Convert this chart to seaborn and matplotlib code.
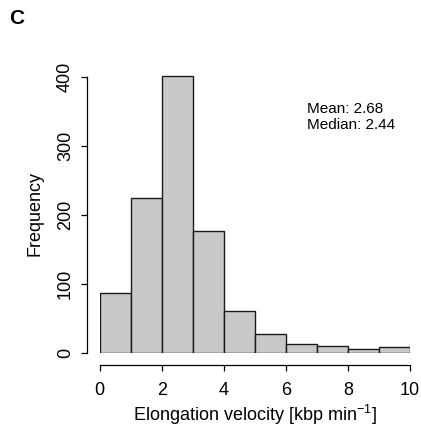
import numpy as np
import pandas as pd
import seaborn as sns
import matplotlib.pyplot as plt

# Гистограмма скорости элонгации
bin_edges = [0, 1, 2, 3, 4, 5, 6, 7, 8, 9, 10]
bin_counts = [88, 225, 402, 177, 62, 28, 13, 11, 6, 9]
x_ticks = [0, 2, 4, 6, 8, 10]
y_ticks = [0, 100, 200, 300, 400]
mean_val = 2.68
median_val = 2.44

centers = [(a + b) / 2 for a, b in zip(bin_edges[:-1], bin_edges[1:])]
df = pd.DataFrame({'velocity': centers, 'count': bin_counts})

sns.set_style('white')
plt.rcParams['font.family'] = ['Liberation Sans', 'DejaVu Sans']
plt.rcParams['text.color'] = 'black'
plt.rcParams['axes.labelcolor'] = 'black'
plt.rcParams['xtick.color'] = 'black'
plt.rcParams['ytick.color'] = 'black'

W, H = 421, 426
fig = plt.figure(figsize=(W / 100, H / 100), dpi=100)
ymax = 420
ax_h = ymax * 0.69
ax = fig.add_axes([99.7 / W, (H - 353.3) / H, 310.3 / W, ax_h / H])

sns.histplot(data=df, x='velocity', weights='count', bins=bin_edges,
             color='#c8cac9', edgecolor='#1a1a1a', linewidth=1.0, alpha=1,
             ax=ax)

ax.set_xlim(0, 10)
ax.set_ylim(0, ymax)
ax.set_xticks(x_ticks)
ax.set_yticks(y_ticks)

for s in ['top', 'right']:
    ax.spines[s].set_visible(False)
ax.spines['left'].set_position(('outward', 9))
ax.spines['bottom'].set_position(('outward', 8.4))
ax.spines['left'].set_bounds(0, 400)
ax.spines['bottom'].set_bounds(0, 10)
for s in ['left', 'bottom']:
    ax.spines[s].set_linewidth(0.9)
    ax.spines[s].set_color('black')
ax.tick_params(axis='both', which='major', direction='out', length=4.5,
               width=0.9, colors='black', labelsize=13, left=True,
               bottom=True)
ax.tick_params(axis='x', pad=7.5)
ax.tick_params(axis='y', labelrotation=90, pad=5)
for lab in ax.get_yticklabels():
    lab.set_va('center')

ax.set_xlabel('Elongation velocity [kbp min$^{\\mathregular{-1}}$]', fontsize=13)
ax.set_ylabel('Frequency', fontsize=13)
ax.xaxis.label.set_va('baseline')
ax.yaxis.label.set_va('center')
ax.xaxis.set_label_coords(0.5, (353.3 - 421) / ax_h)
ax.yaxis.set_label_coords((35 - 99.7) / 310.3, (353.3 - 213.5) / ax_h)

ax.text(6.67, 342, f'Mean: {mean_val:.2f}\nMedian: {median_val:.2f}',
        fontsize=11, ha='left', va='center', linespacing=1.2)

fig.text(9 / W, 1 - 19 / H, 'C', fontsize=15, fontweight='bold',
         ha='left', va='center')

fig.savefig('out.png', dpi=100)
